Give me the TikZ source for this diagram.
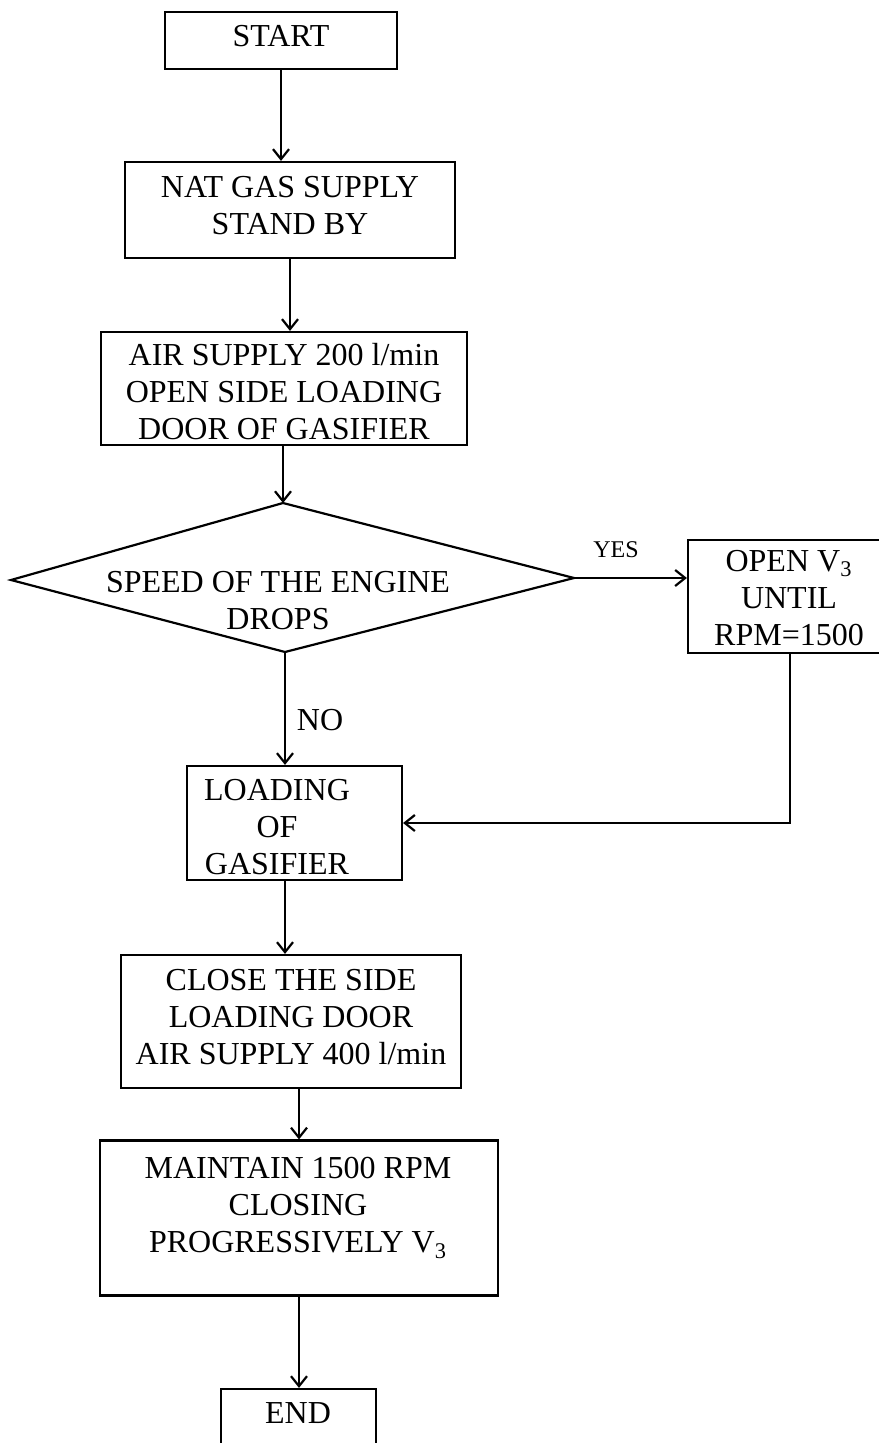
\documentclass[tikz,border=0pt]{standalone}
\usepackage{fontspec}
\setmainfont{Liberation Serif}
\usetikzlibrary{arrows.meta}
\begin{document}
\begin{tikzpicture}[x=0.5pt, y=-0.5pt,
  box/.style={draw, line width=1.1pt, inner sep=0pt},
  txt/.style={font=\fontsize{16}{18.5}\selectfont, align=center, inner sep=0pt},
  lbl/.style={font=\fontsize{12}{14}\selectfont, inner sep=0pt},
  flow/.style={line width=1.1pt, -{Straight Barb[length=5pt,width=8pt,line width=1.1pt]}},
  conn/.style={line width=1.1pt, line join=miter}]
\fill[white] (0,0) rectangle (878,1443);
\useasboundingbox (0,0) rectangle (878,1443);

% boxes
\node[box, minimum width=116pt, minimum height=28.5pt] (startbox) at (281,40.5) {};
\node[box, minimum width=165pt, minimum height=48pt] (natbox) at (290,210) {};
\node[box, minimum width=183pt, minimum height=56.5pt] (airbox) at (284,388.5) {};
\coordinate (dl) at (11,580);
\coordinate (dt) at (283,503);
\coordinate (dr) at (574,578);
\coordinate (db) at (285,652);
\draw[conn] (dl) -- (dt) -- (dr) -- (db) -- cycle;
\node[box, minimum width=102pt, minimum height=56.5pt] (openbox) at (790,596.5) {};
\node[box, minimum width=107.5pt, minimum height=57pt] (loadbox) at (294.5,823) {};
\node[box, minimum width=170pt, minimum height=66.5pt] (closebox) at (291,1021.5) {};
\node[box, minimum width=199pt, minimum height=77.5pt] (maintbox) at (299,1218) {};
\node[box, minimum width=77.5pt, minimum height=40pt] (endbox) at (298.5,1429) {};

% texts
\node[txt] (starttxt) at (281,36) {START};
\node[txt] (nattxt) at (290,206) {NAT GAS SUPPLY\\STAND BY};
\node[txt] (airtxt) at (284,392) {AIR SUPPLY 200 l/min\\OPEN SIDE LOADING\\DOOR OF GASIFIER};
\node[txt] (dtxt) at (278,601) {SPEED OF THE ENGINE\\DROPS};
\node[txt] (opentxt) at (789,598) {OPEN V\textsubscript{3}\\UNTIL\\RPM=1500};
\node[txt] (loadtxt) at (277,827) {LOADING\\OF\\GASIFIER};
\node[txt] (closetxt) at (291,1017) {CLOSE THE SIDE\\LOADING DOOR\\AIR SUPPLY 400 l/min};
\node[txt] (mainttxt) at (298,1208) {MAINTAIN 1500 RPM\\CLOSING\\PROGRESSIVELY V\textsubscript{3}};
\node[txt] (endtxt) at (298,1413) {END};
\node[lbl] (yes) at (616,550) {YES};
\node[txt] (no) at (320,720) {NO};

% connectors
\draw[flow] (startbox.south) -- (startbox.south |- natbox.north);
\draw[flow] (natbox.south) -- (natbox.south |- airbox.north);
\draw[flow] (airbox.south -| dt) -- (dt);
\draw[flow] (dr) -- (dr -| openbox.west);
\draw[flow] (db) -- (db |- loadbox.north);
\draw[flow] (openbox.south) -- (openbox.south |- loadbox.east) -- (loadbox.east);
\draw[flow] (db |- loadbox.south) -- (db |- closebox.north);
\draw[flow] (closebox.south -| maintbox.north) -- (maintbox.north);
\draw[flow] (maintbox.south) -- (maintbox.south |- endbox.north);
\end{tikzpicture}
\end{document}
